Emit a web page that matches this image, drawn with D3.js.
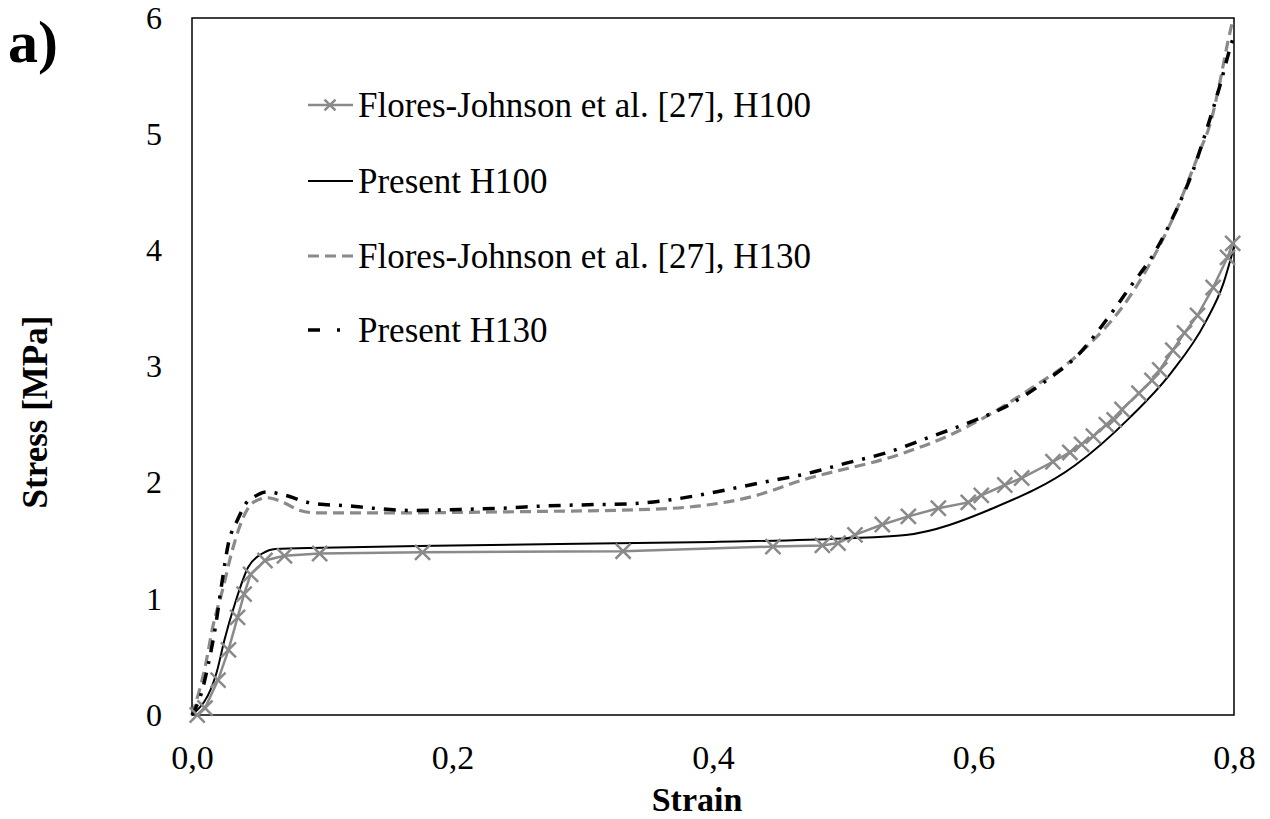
<!DOCTYPE html>
<html>
<head>
<meta charset="utf-8">
<script src="https://cdn.jsdelivr.net/npm/d3@7"></script>
<style>
  body { margin: 0; background: #fff; }
  text { font-family: "Liberation Serif", "Times New Roman", serif; fill: #000; }
</style>
</head>
<body>
<div id="chart"></div>
<script>
// strain / stress pairs
var floresH100 = [
  [0.004, 0.0], [0.010, 0.06], [0.020, 0.30], [0.028, 0.56], [0.035, 0.84], [0.040, 1.04],
  [0.045, 1.21], [0.056, 1.33], [0.071, 1.37], [0.098, 1.39], [0.177, 1.40], [0.331, 1.41],
  [0.446, 1.45], [0.484, 1.46], [0.496, 1.48], [0.509, 1.55], [0.530, 1.64], [0.550, 1.71],
  [0.573, 1.78], [0.596, 1.83], [0.606, 1.89], [0.624, 1.98], [0.637, 2.04], [0.661, 2.18],
  [0.674, 2.26], [0.683, 2.33], [0.692, 2.40], [0.702, 2.50], [0.708, 2.54], [0.714, 2.63],
  [0.727, 2.77], [0.737, 2.88], [0.743, 2.97], [0.753, 3.14], [0.762, 3.29], [0.772, 3.44],
  [0.784, 3.68], [0.795, 3.94], [0.799, 4.06]
];

var presentH100 = [
  [0.0, 0.0], [0.019, 0.37], [0.025, 0.65], [0.033, 0.96], [0.043, 1.27], [0.054, 1.39],
  [0.064, 1.43], [0.10, 1.44], [0.20, 1.46], [0.40, 1.49], [0.50, 1.52], [0.548, 1.55],
  [0.615, 1.78], [0.678, 2.15], [0.720, 2.56], [0.752, 2.95], [0.778, 3.38], [0.792, 3.72],
  [0.800, 4.03]
];

var floresH130 = [
  [0.0, 0.0], [0.010, 0.41], [0.016, 0.76], [0.024, 1.10], [0.031, 1.42], [0.041, 1.74],
  [0.047, 1.83], [0.058, 1.87], [0.070, 1.83], [0.083, 1.76], [0.096, 1.74], [0.15, 1.74],
  [0.25, 1.75], [0.35, 1.77], [0.39, 1.80], [0.43, 1.88], [0.468, 2.02], [0.545, 2.25],
  [0.582, 2.41], [0.640, 2.78], [0.684, 3.14], [0.718, 3.57], [0.741, 4.00], [0.756, 4.35],
  [0.766, 4.63], [0.774, 4.86], [0.782, 5.10], [0.789, 5.44], [0.795, 5.78], [0.799, 5.98]
];

var presentH130 = [
  [0.0, 0.0], [0.008, 0.22], [0.012, 0.41], [0.018, 0.76], [0.023, 1.14], [0.028, 1.48],
  [0.035, 1.68], [0.042, 1.83], [0.048, 1.88], [0.057, 1.92], [0.072, 1.89], [0.089, 1.83],
  [0.104, 1.81], [0.121, 1.80], [0.139, 1.78], [0.171, 1.76], [0.206, 1.77], [0.239, 1.78],
  [0.271, 1.80], [0.304, 1.81], [0.339, 1.82], [0.372, 1.86], [0.402, 1.92], [0.437, 2.00],
  [0.469, 2.07], [0.503, 2.17], [0.534, 2.26], [0.566, 2.39], [0.597, 2.52], [0.624, 2.65],
  [0.656, 2.88], [0.682, 3.12], [0.702, 3.40], [0.720, 3.68], [0.740, 4.00], [0.755, 4.33],
  [0.768, 4.67], [0.779, 5.04], [0.789, 5.41], [0.798, 5.78], [0.800, 5.85]
];

var xTicks = [0, 0.2, 0.4, 0.6, 0.8];
var yTicks = [0, 1, 2, 3, 4, 5, 6];

var legendLabels = [
  'Flores-Johnson et al. [27], H100',
  'Present H100',
  'Flores-Johnson et al. [27], H130',
  'Present H130'
];

var width = 1270,
    height = 819;

var plotLeft = 192, plotRight = 1234, plotTop = 18, plotBottom = 715;

var grey = '#8a8a8a';

var svg = d3.select('#chart').append('svg')
    .attr('width', width)
    .attr('height', height);

var x = d3.scaleLinear().domain([0, 0.8]).range([plotLeft, plotRight]);
var y = d3.scaleLinear().domain([0, 6]).range([plotBottom, plotTop]);

var fmt = function(d) { return d3.format('.1f')(d).replace('.', ','); };

// axes, labels only (no tick marks in the original)
var xAxis = d3.axisBottom(x).tickValues(xTicks).tickSize(0).tickPadding(30).tickFormat(fmt);
var yAxis = d3.axisLeft(y).tickValues(yTicks).tickSize(0).tickPadding(30).tickFormat(d3.format('d'));

svg.append('g')
    .attr('transform', 'translate(0,' + plotBottom + ')')
    .call(xAxis)
    .attr('font-size', 34)
    .call(function(g) { g.select('.domain').remove(); });

svg.append('g')
    .attr('transform', 'translate(' + plotLeft + ',0)')
    .call(yAxis)
    .attr('font-size', 32)
    .call(function(g) { g.select('.domain').remove(); });

// frame
svg.append('rect')
    .attr('x', plotLeft)
    .attr('y', plotTop)
    .attr('width', plotRight - plotLeft)
    .attr('height', plotBottom - plotTop)
    .attr('fill', 'none')
    .attr('stroke', '#000')
    .attr('stroke-width', 1.5);

var line = d3.line()
    .x(function(d) { return x(d[0]); })
    .y(function(d) { return y(d[1]); });

var smooth = d3.line()
    .x(function(d) { return x(d[0]); })
    .y(function(d) { return y(d[1]); })
    .curve(d3.curveMonotoneX);

svg.append('path')
    .datum(floresH130)
    .attr('d', smooth)
    .attr('fill', 'none')
    .attr('stroke', grey)
    .attr('stroke-width', 3.2)
    .attr('stroke-dasharray', '11,6');

svg.append('path')
    .datum(presentH130)
    .attr('d', smooth)
    .attr('fill', 'none')
    .attr('stroke', '#000')
    .attr('stroke-width', 3.5)
    .attr('stroke-dasharray', '12,9,3,9');

svg.append('path')
    .datum(floresH100)
    .attr('d', line)
    .attr('fill', 'none')
    .attr('stroke', grey)
    .attr('stroke-width', 2.5);

svg.append('path')
    .datum(presentH100)
    .attr('d', smooth)
    .attr('fill', 'none')
    .attr('stroke', '#000')
    .attr('stroke-width', 2);

var cross = d3.symbol().type(d3.symbolX).size(150);

svg.selectAll('.mark')
    .data(floresH100)
    .enter().append('path')
    .attr('class', 'mark')
    .attr('transform', function(d) { return 'translate(' + x(d[0]) + ',' + y(d[1]) + ')'; })
    .attr('d', cross)
    .attr('fill', 'none')
    .attr('stroke', grey)
    .attr('stroke-width', 2.5);

// legend
var legendY = [105, 181, 256, 330];
var legend = svg.append('g');

legendLabels.forEach(function(lab, i) {
  var g = legend.append('g').attr('transform', 'translate(308,' + legendY[i] + ')');
  var ln = g.append('line').attr('x1', 0).attr('x2', 45).attr('y1', 0).attr('y2', 0).attr('fill', 'none');
  if (i === 0) {
    ln.attr('stroke', grey).attr('stroke-width', 2.5);
    g.append('path').attr('d', d3.symbol().type(d3.symbolX).size(80)).attr('transform', 'translate(22,0)')
      .attr('stroke', grey).attr('stroke-width', 2.5).attr('fill', 'none');
  } else if (i === 1) {
    ln.attr('stroke', '#000').attr('stroke-width', 2);
  } else if (i === 2) {
    ln.attr('stroke', grey).attr('stroke-width', 3.2).attr('stroke-dasharray', '11,6');
  } else {
    ln.attr('stroke', '#000').attr('stroke-width', 3.5).attr('stroke-dasharray', '12,17,3,20');
  }
  g.append('text')
    .attr('x', 50)
    .attr('y', 12)
    .attr('font-size', '35px')
    .text(lab);
});

// axis titles
svg.append('text')
    .attr('x', 697)
    .attr('y', 811)
    .attr('text-anchor', 'middle')
    .attr('font-size', '34px')
    .attr('font-weight', 'bold')
    .text('Strain');

svg.append('text')
    .attr('transform', 'translate(47,412) rotate(-90)')
    .attr('text-anchor', 'middle')
    .attr('font-size', '35px')
    .attr('font-weight', 'bold')
    .text('Stress [MPa]');

svg.append('text')
    .attr('x', 8)
    .attr('y', 62)
    .attr('font-size', '60px')
    .attr('font-weight', 'bold')
    .text('a)');
</script>
</body>
</html>
